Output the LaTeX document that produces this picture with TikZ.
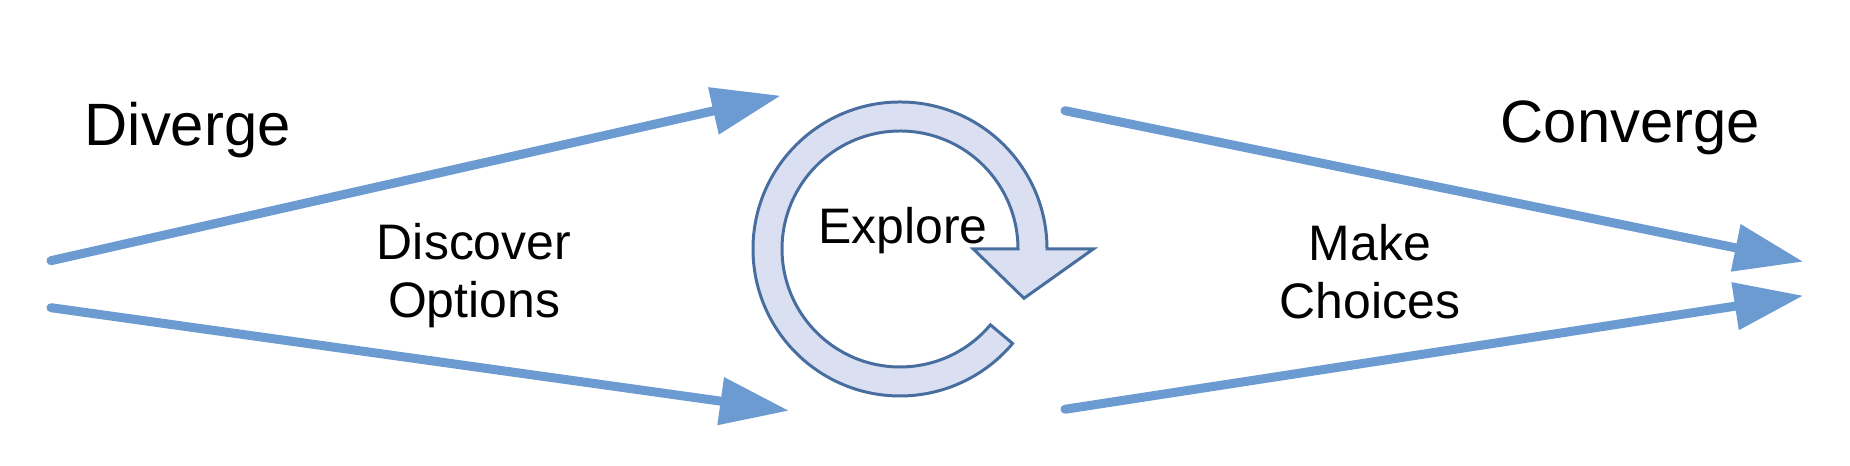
\documentclass[tikz,border=0pt]{standalone}
\usepackage{fontspec}
\setmainfont{Liberation Sans}
\usepackage{xcolor}
\usetikzlibrary{arrows.meta}

\definecolor{flowblue}{RGB}{108,155,210}
\definecolor{loopfill}{RGB}{218,224,241}
\definecolor{loopedge}{RGB}{72,110,160}

\begin{document}
\begin{tikzpicture}[
  phase/.style={font=\fontsize{17}{20}\selectfont, inner sep=0pt, anchor=base west},
  stage/.style={font=\fontsize{14.2}{16.5}\selectfont, align=center, inner sep=0pt, anchor=base},
  arrow/.style={line width=2.56pt, draw=flowblue, line cap=round, -{Triangle[length=6.9mm, width=4.6mm]}},
  loopband/.style={draw=loopedge, fill=loopfill, line width=0.85pt}
]
\useasboundingbox (0,0) rectangle (18.5,4.66);

% end points of the four arrows
\coordinate (divtail1) at (0.51,2.053);
\coordinate (divtip1) at (7.807,3.703);
\coordinate (divtail2) at (0.51,1.583);
\coordinate (divtip2) at (7.89,0.553);
\coordinate (contail1) at (10.65,3.553);
\coordinate (contip1) at (18.033,2.043);
\coordinate (contail2) at (10.65,0.567);
\coordinate (contip2) at (18.033,1.703);

% explore loop
\begin{scope}[shift={(9.0,2.17)}]
\draw [loopband] (1.47,0) arc[start angle=0, end angle=320, radius=1.47]
  -- (320:1.18) arc[start angle=320, end angle=0, radius=1.18]
  -- (0.733,0) -- (1.24,-0.493) -- (1.933,0) -- cycle;
\end{scope}

\node (diverge) [phase] at (0.84,3.20) {Diverge};
\node (converge) [phase] at (15.0,3.23) {Converge};
\node (explore) [stage] at (9.03,2.22) {Explore};
\node (discover) [stage] at (4.74,1.48) {Discover\\Options};
\node (choices) [stage] at (13.70,1.47) {Make\\Choices};

\draw [arrow] (divtail1) -- (divtip1);
\draw [arrow] (divtail2) -- (divtip2);
\draw [arrow] (contail1) -- (contip1);
\draw [arrow] (contail2) -- (contip2);
\end{tikzpicture}
\end{document}
